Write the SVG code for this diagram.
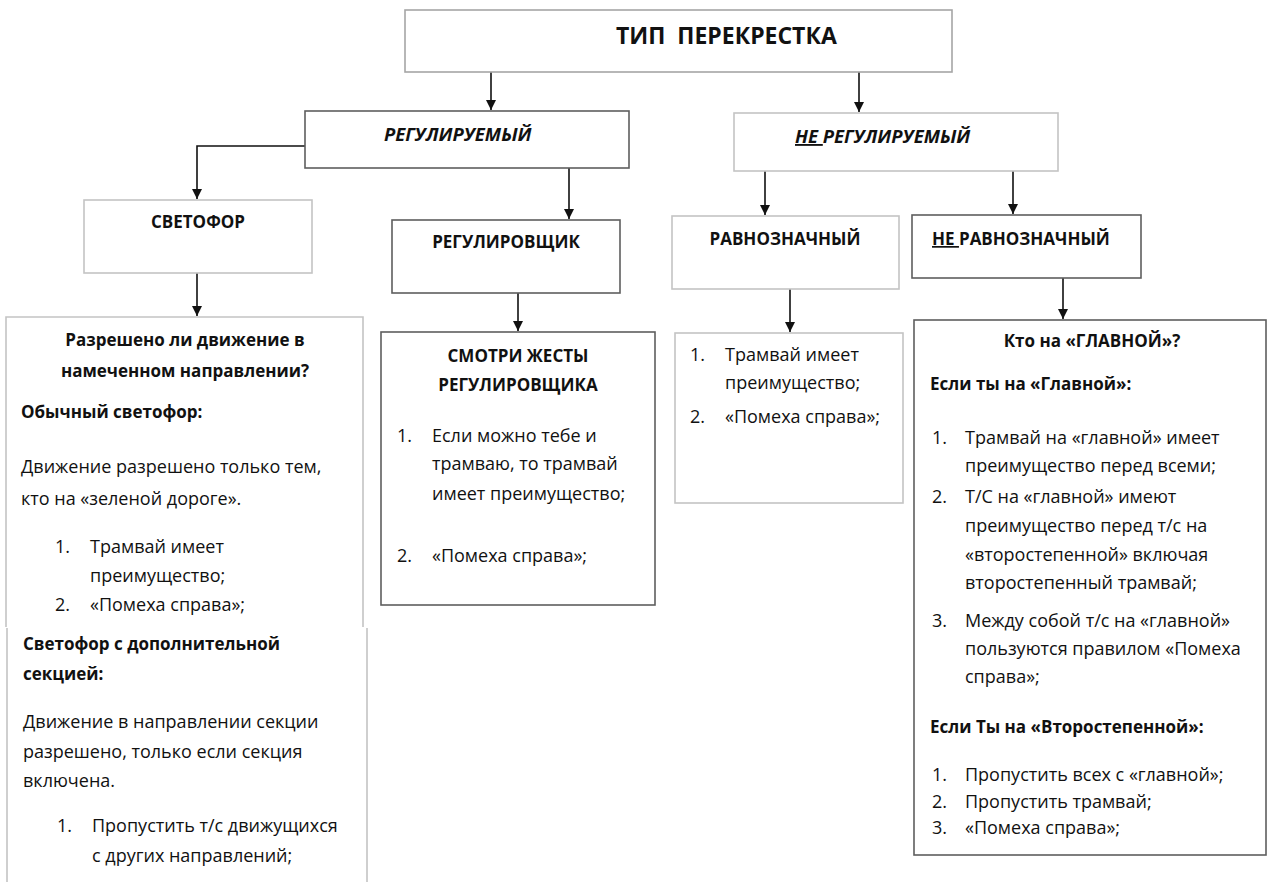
<svg xmlns="http://www.w3.org/2000/svg" width="1270" height="882" viewBox="0 0 1270 882">
<defs>
<style>
.light{fill:#fff;stroke:#c4c4c4;stroke-width:1.6}
.mid{fill:#fff;stroke:#a6a6a6;stroke-width:1.6}
.dark{fill:#fff;stroke:#5e5e5e;stroke-width:1.6}
.open{fill:none}
.conn path{fill:none;stroke:#111;stroke-width:1.6}
text{font-family:"Open Sans","Noto Sans","Liberation Sans",sans-serif;fill:#111}
.t{font-size:18px}
.b{font-size:17px;font-weight:bold}
.h{font-size:17px;font-weight:bold;text-anchor:middle}
.c{text-anchor:middle}
.title{font-size:23px;font-weight:bold;white-space:pre}
.i{font-size:18.5px;font-weight:bold;font-style:italic}
.u{text-decoration:underline}
</style>
<marker id="arr" viewBox="0 0 10 10" refX="10" refY="5" markerWidth="10" markerHeight="11" markerUnits="userSpaceOnUse" orient="auto">
<path d="M0,0 L10,5 L0,10 z" fill="#111"/>
</marker>
</defs>
<rect width="1270" height="882" fill="#fff"/>

<g id="connectors" class="conn">
<path d="M491,67 V110" marker-end="url(#arr)"/>
<path d="M859,67 V112" marker-end="url(#arr)"/>
<path d="M305,146 H197 V199" marker-end="url(#arr)"/>
<path d="M569,166 V219" marker-end="url(#arr)"/>
<path d="M765,168 V215" marker-end="url(#arr)"/>
<path d="M1013,168 V214" marker-end="url(#arr)"/>
<path d="M197,273 V316" marker-end="url(#arr)"/>
<path d="M518,291 V331" marker-end="url(#arr)"/>
<path d="M790,289 V332" marker-end="url(#arr)"/>
<path d="M1063,278 V319" marker-end="url(#arr)"/>
</g>

<g id="node-type">
<rect class="mid" x="405" y="10" width="547" height="62"/>
<text class="title" x="616" y="44" xml:space="preserve">ТИП  ПЕРЕКРЕСТКА</text>
</g>

<g id="node-regulated">
<rect class="dark" x="305" y="111" width="324" height="57"/>
<text class="i" x="384" y="141">РЕГУЛИРУЕМЫЙ</text>
</g>

<g id="node-unregulated">
<rect class="light" x="734" y="113" width="324" height="58"/>
<text class="i" x="795" y="143"><tspan class="u" xml:space="preserve">НЕ </tspan>РЕГУЛИРУЕМЫЙ</text>
</g>

<g id="node-svetofor">
<rect class="light" x="84" y="200" width="228" height="73"/>
<text class="h" x="198" y="228">СВЕТОФОР</text>
</g>

<g id="node-regulirovshchik">
<rect class="dark" x="392" y="220" width="228" height="73"/>
<text class="h" x="506" y="248">РЕГУЛИРОВЩИК</text>
</g>

<g id="node-ravnoznachny">
<rect class="light" x="672" y="216" width="227" height="73"/>
<text class="h" x="785" y="245">РАВНОЗНАЧНЫЙ</text>
</g>

<g id="node-neravnoznachny">
<rect class="dark" x="912" y="215" width="229" height="63"/>
<text class="b" x="932" y="245"><tspan class="u" xml:space="preserve">НЕ </tspan>РАВНОЗНАЧНЫЙ</text>
</g>

<g id="node-svetofor-rules">
<path class="light open" d="M6,627 V317 H363 V627"/>
<path class="light open" d="M7,628 V882 M367,628 V882"/>
<text class="b c" x="185" y="346">Разрешено ли движение в</text>
<text class="b c" x="185" y="377">намеченном направлении?</text>
<text class="b" x="21" y="418">Обычный светофор:</text>
<text class="t" x="21" y="473">Движение разрешено только тем,</text>
<text class="t" x="21" y="505">кто на «зеленой дороге».</text>
<text class="t" x="55" y="553">1.</text>
<text class="t" x="90" y="553">Трамвай имеет</text>
<text class="t" x="90" y="582">преимущество;</text>
<text class="t" x="55" y="611">2.</text>
<text class="t" x="90" y="611">«Помеха справа»;</text>
<text class="b" x="23" y="650">Светофор с дополнительной</text>
<text class="b" x="23" y="680">секцией:</text>
<text class="t" x="23" y="728">Движение в направлении секции</text>
<text class="t" x="23" y="758">разрешено, только если секция</text>
<text class="t" x="23" y="787">включена.</text>
<text class="t" x="57" y="832">1.</text>
<text class="t" x="92" y="832">Пропустить т/с движущихся</text>
<text class="t" x="92" y="862">с других направлений;</text>
</g>

<g id="node-regulirovshchik-rules">
<rect class="dark" x="381" y="332" width="274" height="273"/>
<text class="b c" x="518" y="362">СМОТРИ ЖЕСТЫ</text>
<text class="b c" x="518" y="391">РЕГУЛИРОВЩИКА</text>
<text class="t" x="397" y="442">1.</text>
<text class="t" x="432" y="442">Если можно тебе и</text>
<text class="t" x="432" y="470">трамваю, то трамвай</text>
<text class="t" x="432" y="500">имеет преимущество;</text>
<text class="t" x="397" y="562">2.</text>
<text class="t" x="432" y="562">«Помеха справа»;</text>
</g>

<g id="node-ravnoznachny-rules">
<rect class="light" x="675" y="333" width="228" height="170"/>
<text class="t" x="690" y="361">1.</text>
<text class="t" x="725" y="361">Трамвай имеет</text>
<text class="t" x="725" y="389">преимущество;</text>
<text class="t" x="690" y="423">2.</text>
<text class="t" x="725" y="423">«Помеха справа»;</text>
</g>

<g id="node-neravnoznachny-rules">
<rect class="dark" x="914" y="320" width="352" height="535"/>
<text class="b c" x="1092" y="347">Кто на «ГЛАВНОЙ»?</text>
<text class="b" x="930" y="390">Если ты на «Главной»:</text>
<text class="t" x="932" y="444">1.</text>
<text class="t" x="965" y="444">Трамвай на «главной» имеет</text>
<text class="t" x="965" y="472">преимущество перед всеми;</text>
<text class="t" x="932" y="503">2.</text>
<text class="t" x="965" y="503">Т/С на «главной» имеют</text>
<text class="t" x="965" y="532">преимущество перед т/с на</text>
<text class="t" x="965" y="561">«второстепенной» включая</text>
<text class="t" x="965" y="589">второстепенный трамвай;</text>
<text class="t" x="932" y="627">3.</text>
<text class="t" x="965" y="627">Между собой т/с на «главной»</text>
<text class="t" x="965" y="655">пользуются правилом «Помеха</text>
<text class="t" x="965" y="683">справа»;</text>
<text class="b" x="930" y="733">Если Ты на «Второстепенной»:</text>
<text class="t" x="932" y="781">1.</text>
<text class="t" x="965" y="781">Пропустить всех с «главной»;</text>
<text class="t" x="932" y="808">2.</text>
<text class="t" x="965" y="808">Пропустить трамвай;</text>
<text class="t" x="932" y="834">3.</text>
<text class="t" x="965" y="834">«Помеха справа»;</text>
</g>
</svg>
